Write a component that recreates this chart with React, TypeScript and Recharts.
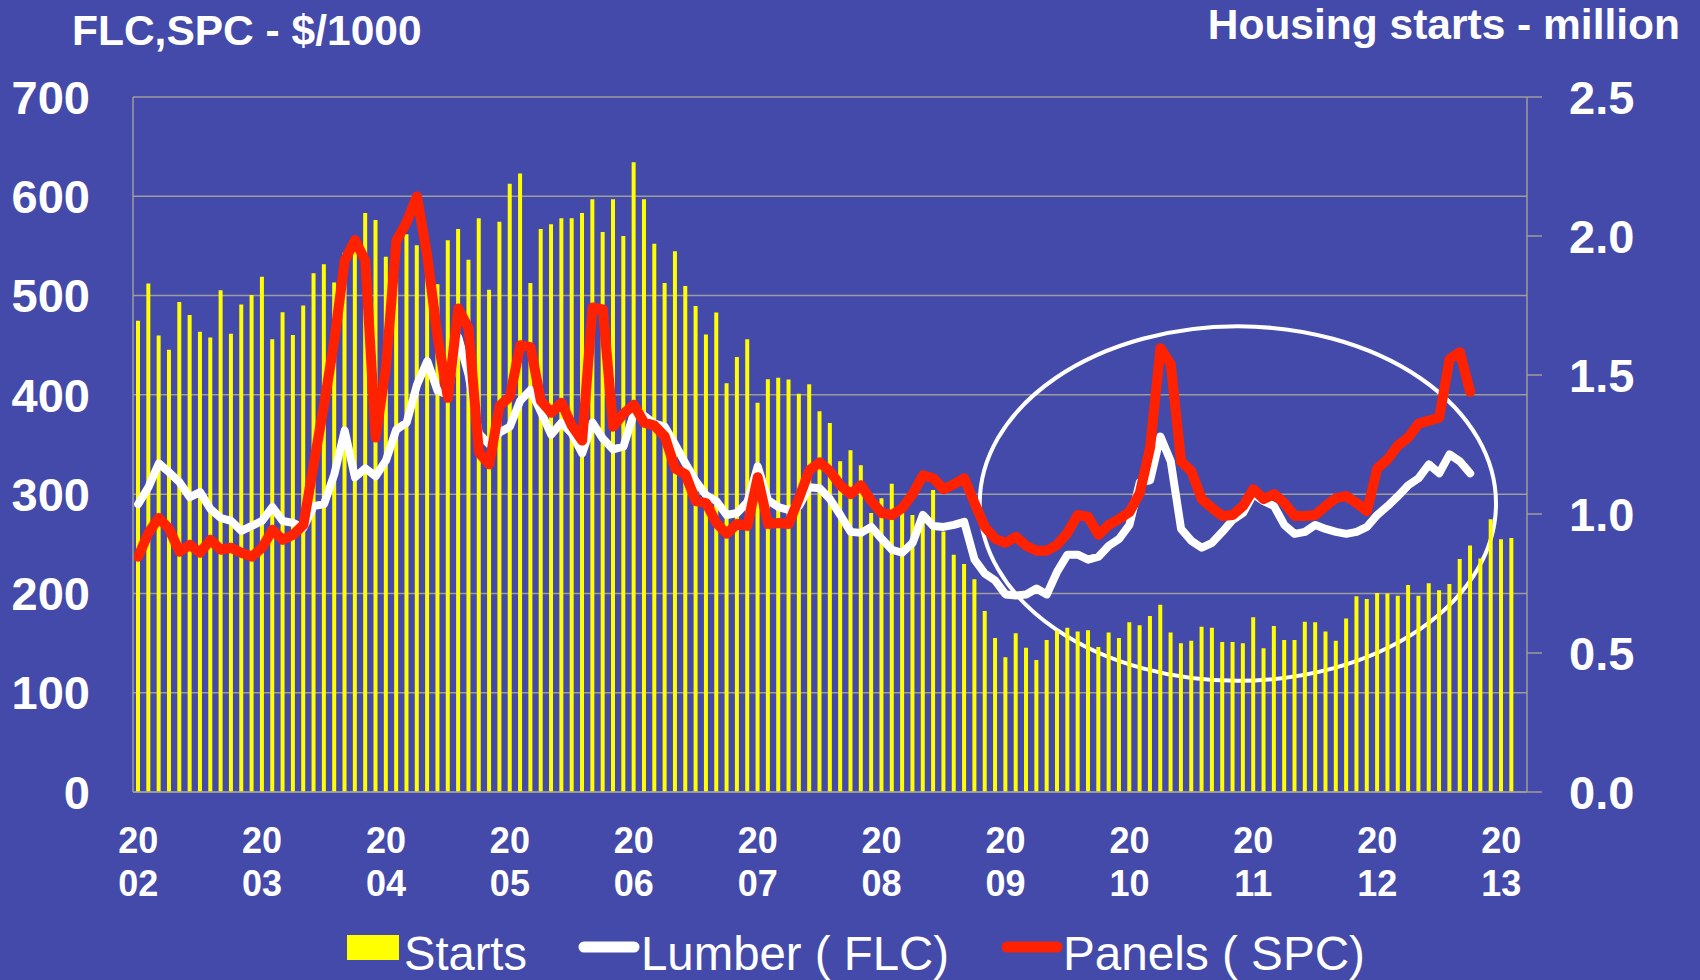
import { ComposedChart, Bar, Line, XAxis, YAxis, CartesianGrid, ReferenceArea } from 'recharts';

const years = ['2002', '2003', '2004', '2005', '2006', '2007', '2008', '2009', '2010', '2011', '2012', '2013'];
const monthNums = ['01', '02', '03', '04', '05', '06', '07', '08', '09', '10', '11', '12'];

// housing starts, million (monthly, SAAR)
const starts = [
  1.695, 1.829, 1.642, 1.591, 1.763, 1.716, 1.656, 1.635, 1.805, 1.648, 1.754, 1.788,
  1.853, 1.629, 1.726, 1.644, 1.750, 1.866, 1.898, 1.833, 1.940, 1.970, 2.083, 2.058,
  1.925, 1.850, 2.006, 1.967, 1.980, 1.826, 1.985, 2.025, 1.915, 2.064, 1.807, 2.051,
  2.188, 2.225, 1.831, 2.025, 2.042, 2.064, 2.064, 2.083, 2.132, 2.014, 2.132, 2.000,
  2.265, 2.132, 1.972, 1.831, 1.945, 1.820, 1.748, 1.646, 1.725, 1.470, 1.565, 1.629,
  1.400, 1.485, 1.490, 1.484, 1.433, 1.467, 1.370, 1.327, 1.190, 1.229, 1.175, 1.004,
  1.057, 1.109, 1.005, 0.996, 0.987, 1.086, 0.937, 0.853, 0.820, 0.765, 0.651, 0.554,
  0.485, 0.571, 0.519, 0.475, 0.547, 0.581, 0.591, 0.577, 0.582, 0.522, 0.574, 0.554,
  0.611, 0.600, 0.633, 0.674, 0.574, 0.535, 0.544, 0.594, 0.591, 0.540, 0.540, 0.535,
  0.629, 0.517, 0.597, 0.547, 0.547, 0.612, 0.611, 0.577, 0.544, 0.624, 0.704, 0.694,
  0.716, 0.714, 0.706, 0.745, 0.706, 0.751, 0.726, 0.748, 0.838, 0.887, 0.840, 0.981,
  0.909, 0.914, null,
];

// framing lumber composite, $/1000
const lumber = [
  290, 307, 331, 322, 312, 297, 302, 285, 276, 273, 263, 268,
  273, 287, 273, 271, 266, 288, 290, 320, 364, 317, 326, 318,
  334, 365, 372, 410, 434, 404, 400, 458, 420, 361, 350, 362,
  368, 394, 405, 383, 360, 372, 361, 341, 372, 356, 345, 348,
  381, 379, 371, 368, 350, 331, 313, 299, 293, 279, 281, 292,
  328, 294, 287, 284, 288, 307, 306, 295, 279, 262, 261, 267,
  255, 244, 241, 251, 279, 268, 267, 269, 272, 234, 220, 213,
  199, 198, 199, 205, 199, 222, 239, 239, 234, 237, 248, 255,
  269, 312, 314, 358, 333, 265, 253, 246, 251, 262, 274, 281,
  300, 293, 288, 269, 260, 262, 269, 265, 262, 260, 262, 267,
  279, 288, 298, 309, 316, 330, 321, 340, 333, 321,
];

// structural panel composite, $/1000
const panels = [
  237, 261, 276, 265, 242, 249, 241, 254, 244, 246, 241, 237,
  246, 264, 254, 259, 269, 330, 390, 455, 535, 556, 535, 357,
  428, 555, 574, 600, 540, 458, 397, 487, 467, 342, 330, 389,
  398, 450, 448, 394, 382, 392, 369, 354, 488, 486, 368, 381,
  390, 372, 369, 358, 326, 320, 293, 291, 271, 260, 270, 268,
  317, 270, 271, 270, 296, 324, 332, 323, 309, 300, 309, 293,
  281, 279, 286, 300, 319, 316, 305, 310, 316, 291, 267, 255,
  251, 257, 248, 243, 243, 249, 261, 279, 277, 259, 269, 275,
  282, 301, 347, 447, 431, 333, 323, 295, 286, 278, 279, 288,
  305, 295, 300, 291, 278, 278, 279, 288, 296, 298, 291, 283,
  326, 335, 349, 357, 371, 374, 377, 436, 443, 403,
];

const leftTicks = [0, 100, 200, 300, 400, 500, 600, 700];
const rightTicks = [0, 0.5, 1, 1.5, 2, 2.5];

const months = years.flatMap((y) => monthNums.map((m) => `${y}${m}`)).slice(0, starts.length);

const data = months.map((month, i) => ({
  month,
  starts: starts[i] ?? null,
  lumber: lumber[i] ?? null,
  panels: panels[i] ?? null,
}));

const bg = '#444AA9';
const gridColor = '#9C9C9C';
const yellow = '#FFFF00';
const red = '#FF2200';
const font = '"Liberation Sans", Arial, Helvetica, sans-serif';

function YearTick({ x, y, payload }: any) {
  const v = String(payload.value);
  const style = { fill: '#fff', fontSize: 36, fontWeight: 700, fontFamily: font };
  return (
    <g>
      <text x={x} y={y + 61} textAnchor="middle" {...style}>{v.slice(0, 2)}</text>
      <text x={x} y={y + 104} textAnchor="middle" {...style}>{v.slice(2, 4)}</text>
    </g>
  );
}

function EllipseShape({ x, y, width, height }: any) {
  return (
    <ellipse
      cx={x + width / 2}
      cy={y + height / 2}
      rx={width / 2}
      ry={height / 2}
      fill="none"
      stroke="#fff"
      strokeWidth={4}
    />
  );
}

export default function App() {
  const tickStyle = { fill: '#fff', fontSize: 47, fontWeight: 700, fontFamily: font };
  const legendText = { fill: '#fff', fontSize: 48, fontFamily: font, lengthAdjust: 'spacingAndGlyphs' as const };

  return (
    <div style={{ position: 'absolute', left: 0, top: 0, width: 1700, height: 980, background: bg, overflow: 'hidden' }}>
      <ComposedChart
        width={1700}
        height={980}
        data={data}
        accessibilityLayer={false}
        margin={{ top: 97, right: 0, bottom: 78, left: 0 }}
      >
        <CartesianGrid yAxisId="left" vertical={false} stroke={gridColor} strokeWidth={1.5} />
        <XAxis
          dataKey="month"
          interval={11}
          height={110}
          tickLine={false}
          tickSize={0}
          tickMargin={0}
          axisLine={{ stroke: gridColor, strokeWidth: 1.5 }}
          tick={<YearTick />}
        />
        <YAxis
          yAxisId="left"
          domain={[0, 700]}
          ticks={leftTicks}
          width={133}
          tickLine={false}
          tickSize={0}
          tickMargin={43}
          axisLine={{ stroke: gridColor, strokeWidth: 1.5 }}
          tick={tickStyle}
        />
        <YAxis
          yAxisId="right"
          orientation="right"
          domain={[0, 2.5]}
          ticks={rightTicks}
          width={173}
          tickSize={15}
          tickMargin={27}
          tickLine={{ stroke: gridColor, strokeWidth: 1.5 }}
          axisLine={{ stroke: gridColor, strokeWidth: 1.5 }}
          tickFormatter={(v: number) => v.toFixed(1)}
          tick={{ ...tickStyle, textAnchor: 'start' }}
        />
        <Bar yAxisId="right" dataKey="starts" fill={yellow} barSize={4} isAnimationActive={false} />
        <Line
          yAxisId="left"
          type="linear"
          dataKey="lumber"
          stroke="#fff"
          strokeWidth={8}
          strokeLinejoin="round"
          strokeLinecap="round"
          dot={false}
          activeDot={false}
          isAnimationActive={false}
        />
        <Line
          yAxisId="left"
          type="linear"
          dataKey="panels"
          stroke={red}
          strokeWidth={10}
          strokeLinejoin="round"
          strokeLinecap="round"
          dot={false}
          activeDot={false}
          isAnimationActive={false}
        />
        <ReferenceArea yAxisId="left" x1="200811" x2="201212" y1={112} y2={469} shape={<EllipseShape />} />
      </ComposedChart>

      <svg width={1700} height={980} style={{ position: 'absolute', left: 0, top: 0, pointerEvents: 'none' }}>
        <text x={72} y={45} fontSize={42.5} fontWeight={700} fill="#fff" fontFamily={font}>FLC,SPC - $/1000</text>
        <text x={1680} y={39} textAnchor="end" fontSize={42.5} fontWeight={700} fill="#fff" fontFamily={font}>
          Housing starts - million
        </text>

        <rect x={347} y={935} width={52} height={25} fill={yellow} />
        <text x={404} y={970} textLength={123} {...legendText}>Starts</text>
        <line x1={584} y1={947} x2={634} y2={947} stroke="#fff" strokeWidth={11} strokeLinecap="round" />
        <text x={641} y={970} textLength={308} {...legendText}>Lumber ( FLC)</text>
        <line x1={1007} y1={947} x2={1057} y2={947} stroke={red} strokeWidth={11} strokeLinecap="round" />
        <text x={1063} y={970} textLength={302} {...legendText}>Panels ( SPC)</text>
      </svg>
    </div>
  );
}
